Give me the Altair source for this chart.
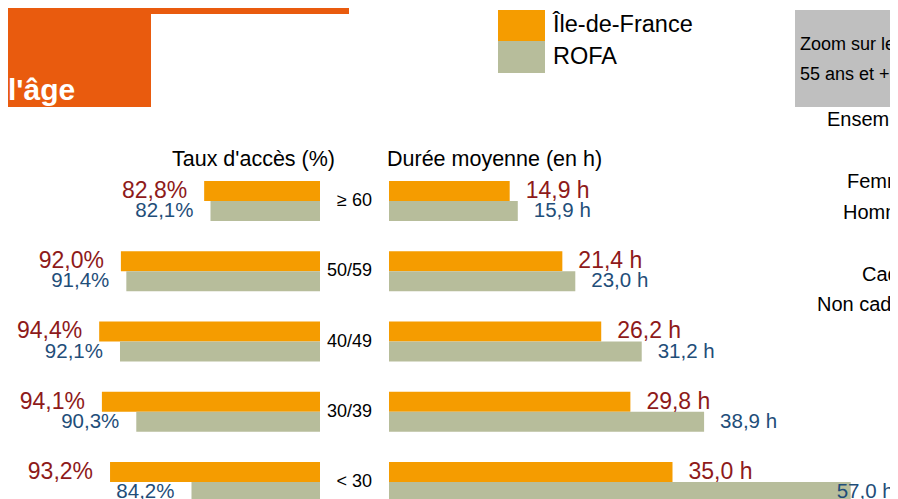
import altair as alt
import pandas as pd

# ---- data ----
ages = ["≥ 60", "50/59", "40/49", "30/39", "< 30"]
series = ["Île-de-France", "ROFA"]
taux_idf = [82.8, 92.0, 94.4, 94.1, 93.2]
taux_rofa = [82.1, 91.4, 92.1, 90.3, 84.2]
duree_idf = [14.9, 21.4, 26.2, 29.8, 35.0]
duree_rofa = [15.9, 23.0, 31.2, 38.9, 57.0]
right_items = ["Ensemble", "Femmes", "Hommes", "Cadres", "Non cadres"]

ORANGE = "#F59C00"
GREY = "#B7BD9B"
RED = "#8E1A1A"
BLUE = "#1F4E79"
HEAD = "#E95B0E"
BOX = "#BFBFBF"
FONT = "Liberation Sans"

rows = []
for i, a in enumerate(ages):
    for s, t, d in ((series[0], taux_idf[i], duree_idf[i]),
                    (series[1], taux_rofa[i], duree_rofa[i])):
        rows.append(dict(age=a, series=s, taux=t, duree=d,
                         taux_lbl=f"{t:.1f}".replace(".", ",") + "%",
                         duree_lbl=f"{d:.1f}".replace(".", ",") + " h"))
df = pd.DataFrame(rows)
cats = pd.DataFrame({"age": ages})
one = pd.DataFrame({"k": [0]})

y = alt.Y("age:N", sort=ages,
          scale=alt.Scale(domain=ages, range=[173, 494], paddingInner=0.43, paddingOuter=0),
          axis=None)
yo = alt.YOffset("series:N", sort=series,
                 scale=alt.Scale(domain=series, paddingInner=0, paddingOuter=0))
col = alt.Color("series:N", scale=alt.Scale(domain=series, range=[ORANGE, GREY]), legend=None)
xl = alt.X("taux:Q", scale=alt.Scale(domain=[70, 100], range=[312, 40.5], nice=False, zero=False), axis=None)
xr = alt.X("duree:Q", scale=alt.Scale(domain=[0, 60], range=[381, 867], nice=False), axis=None)

is_idf = f"datum.series == '{series[0]}'"
tcolor = alt.condition(is_idf, alt.value(RED), alt.value(BLUE))
tsize = alt.condition(is_idf, alt.value(23), alt.value(20.5))

bars_l = alt.Chart(df).mark_bar().encode(x=xl, x2=alt.datum(70), y=y, yOffset=yo, color=col)
bars_r = alt.Chart(df).mark_bar().encode(x=xr, x2=alt.datum(0), y=y, yOffset=yo, color=col)

txt_l = alt.Chart(df).mark_text(align="right", baseline="middle", dx=-17, font=FONT).encode(
    x=xl, y=y, yOffset=yo, text="taux_lbl:N", color=tcolor, size=tsize)
txt_r = alt.Chart(df).transform_filter("datum.duree <= 50").mark_text(
    align="left", baseline="middle", dx=16, font=FONT).encode(
    x=xr, y=y, yOffset=yo, text="duree_lbl:N", color=tcolor, size=tsize)
txt_r2 = alt.Chart(df).transform_filter("datum.duree > 50").mark_text(
    align="left", baseline="middle", dx=-14, font=FONT).encode(
    x=xr, y=y, yOffset=yo, text="duree_lbl:N", color=tcolor, size=tsize)

cat_txt = alt.Chart(cats).mark_text(align="right", baseline="middle", fontSize=18,
                                    font=FONT, color="black").encode(
    x=alt.value(364), y=y, text="age:N")


def rect(x1, x2, y1, y2, fill):
    return alt.Chart(one).mark_rect(fill=fill).encode(
        x=alt.value(x1), x2=alt.value(x2), y=alt.value(y1), y2=alt.value(y2))


def label(txt, x, yv, size, align="left", color="black", weight="normal", baseline="middle"):
    return alt.Chart(one).mark_text(text=txt, align=align, baseline=baseline, fontSize=size,
                                    font=FONT, color=color, fontWeight=weight).encode(
        x=alt.value(x), y=alt.value(yv))


decor = [
    rect(0, 143, 0, 99, HEAD),
    rect(143, 341, 0, 6, HEAD),
    label("l'âge", 0, 92, 30, color="white", weight="bold", baseline="alphabetic"),
    rect(490, 537, 2, 33, ORANGE),
    rect(490, 537, 33, 65, GREY),
    label(series[0], 545, 17, 23.5),
    label(series[1], 545, 49, 23.5),
    rect(787, 890, 2, 99, BOX),
    label("Zoom sur les", 792, 37, 18),
    label("55 ans et +", 792, 67, 18),
    label("Taux d'accès (%)", 245.5, 152, 21.5, align="center"),
    label("Durée moyenne (en h)", 379, 152, 21.5),
]
right_pos = [(819, 112), (839, 174), (835, 205), (854, 267), (809, 297)]
for name, (px, py) in zip(right_items, right_pos):
    decor.append(label(name, px, py, 20))

chart = alt.layer(
    *decor, bars_l, bars_r, txt_l, txt_r, txt_r2, cat_txt
).resolve_scale(x="independent").properties(
    width=882, height=491, autosize=alt.AutoSizeParams(type="none"), padding=0
).configure_view(stroke=None)

chart.save("out.html", embed_options={"renderer": "svg", "actions": False})
